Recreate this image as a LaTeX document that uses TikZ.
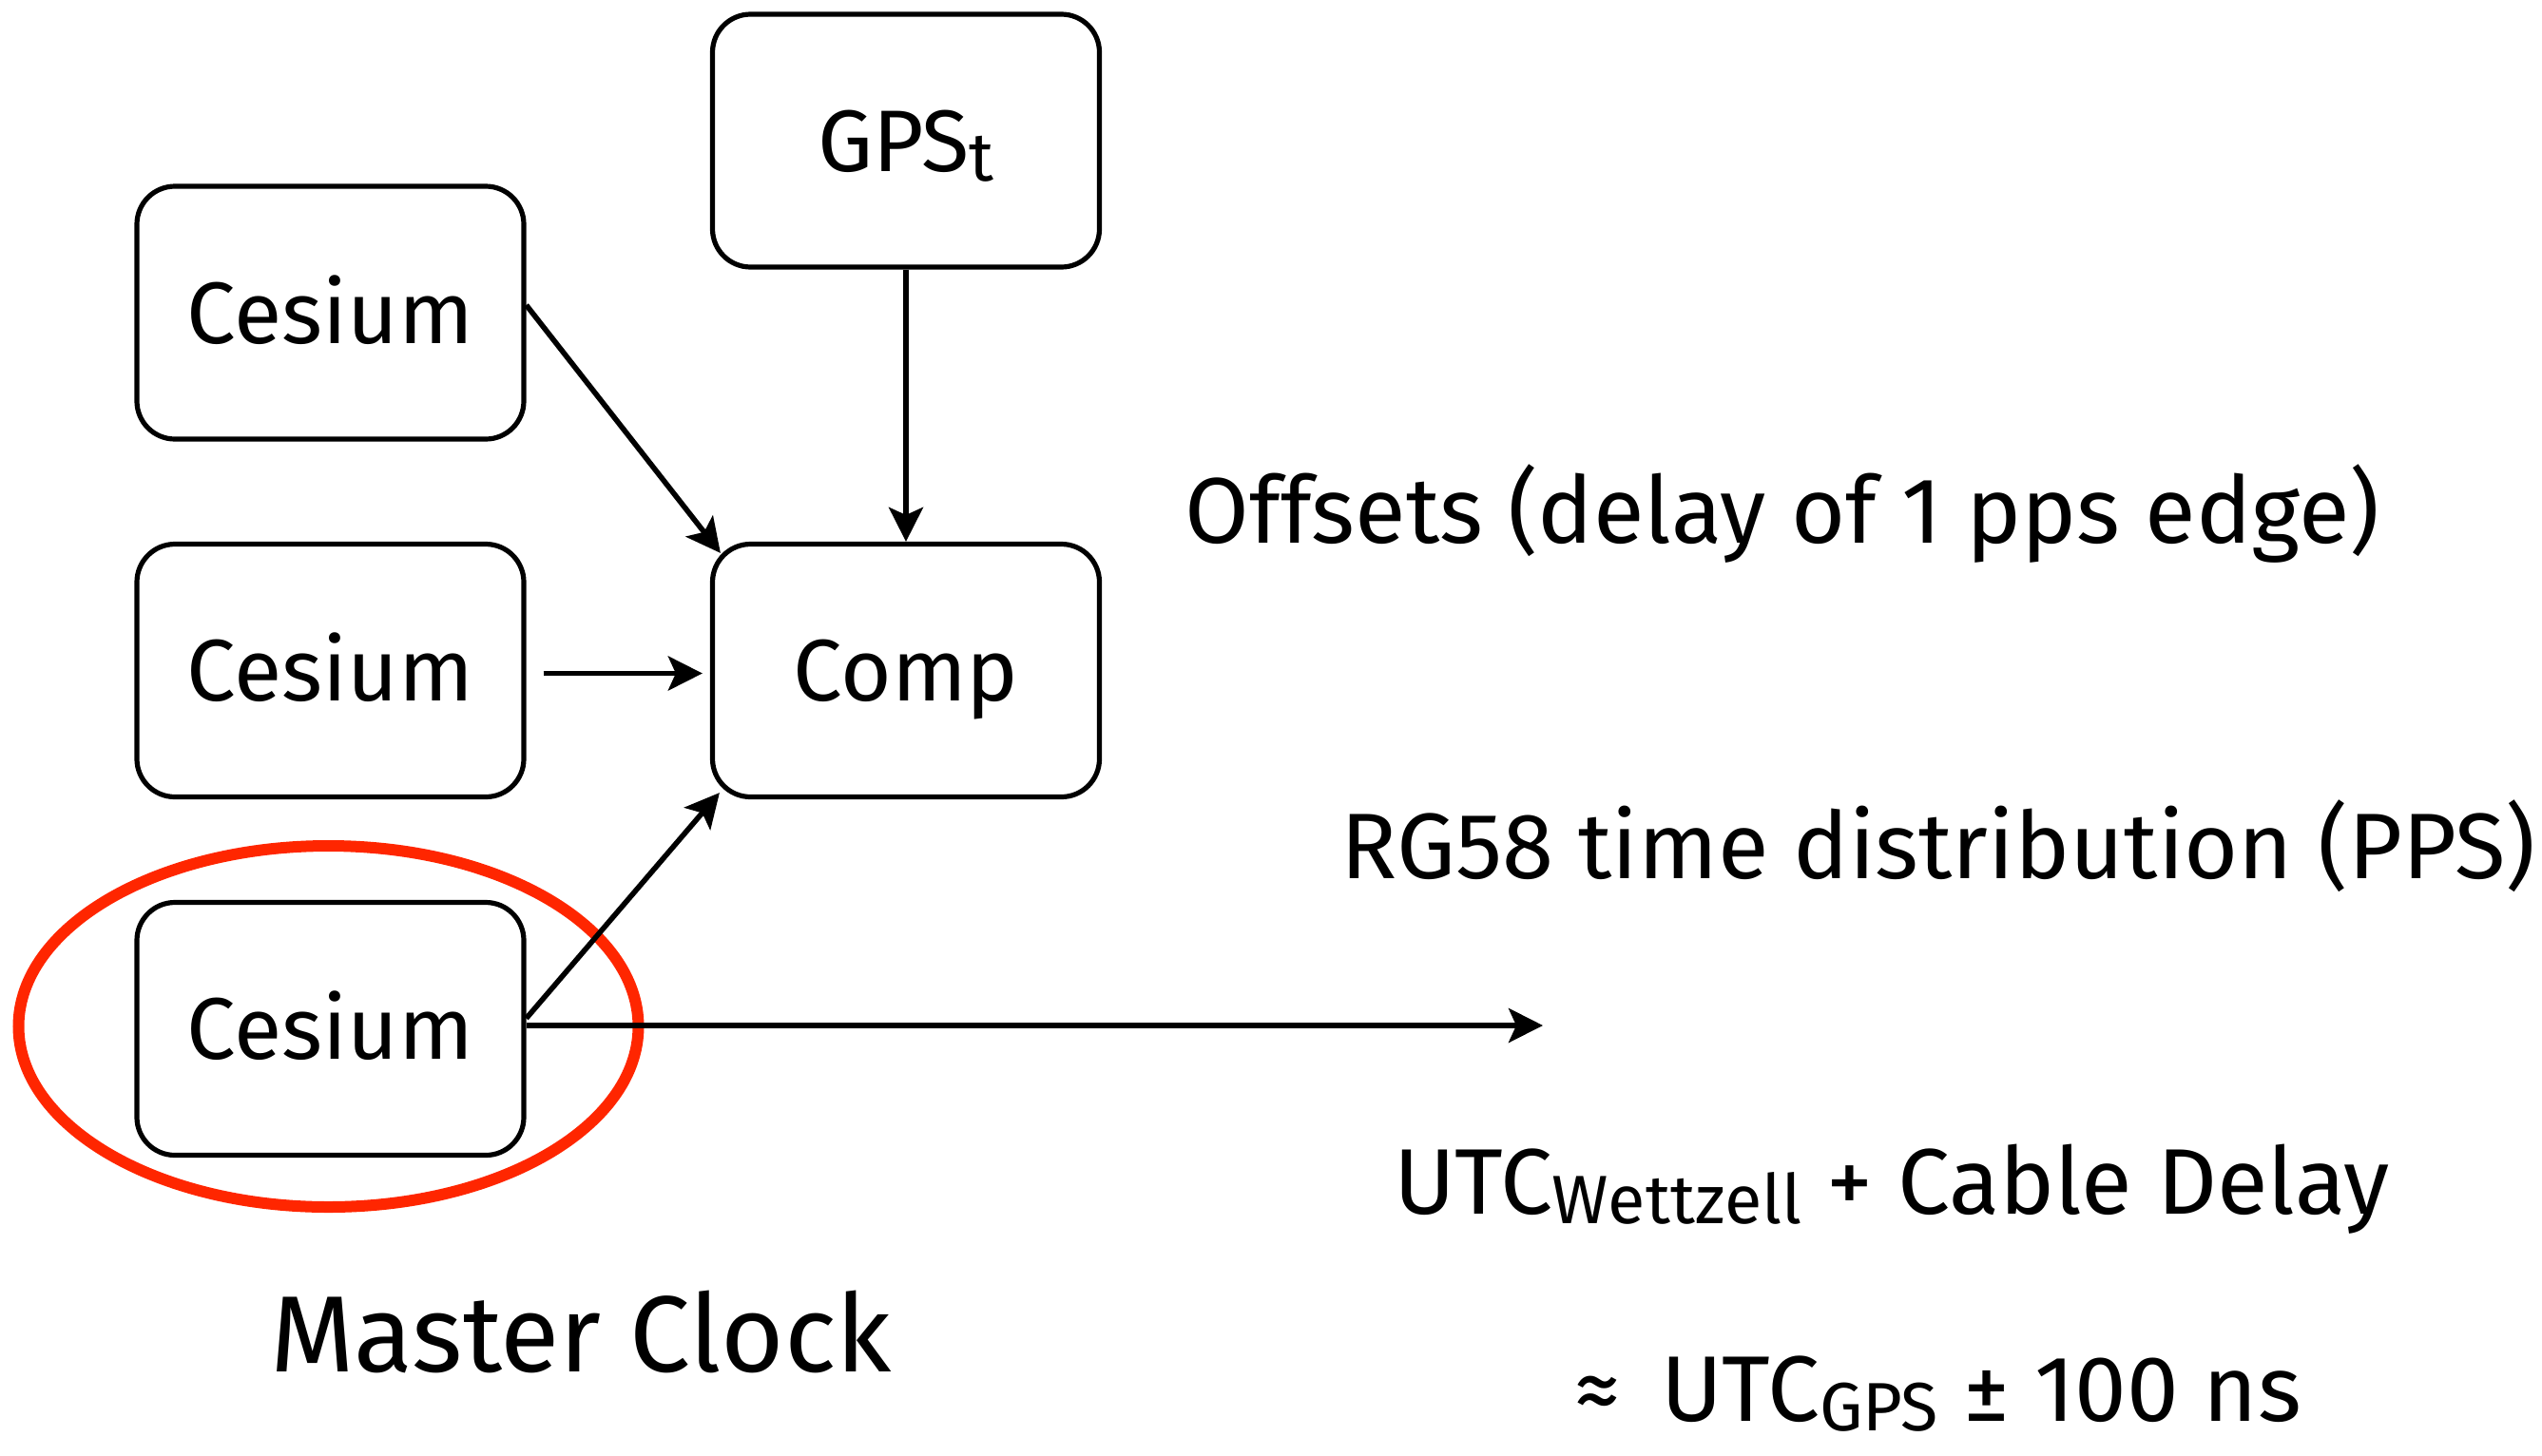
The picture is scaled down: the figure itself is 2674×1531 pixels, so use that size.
\documentclass[tikz,border=0pt]{standalone}
\usepackage{fontspec}
\setmainfont{Fira Sans}
\usetikzlibrary{arrows.meta,shapes.geometric,calc}
\definecolor{ringred}{RGB}{255,38,0}
\newcommand\mysub[1]{\raisebox{-2.5pt}{\fontsize{18}{18}\selectfont #1}}
\begin{document}
\begin{tikzpicture}[x=0.25pt,y=-0.25pt,
  box/.style={draw, line width=1.3pt, rounded corners=10pt,
    minimum width=101.75pt, minimum height=66.5pt,
    text height=16pt, text depth=0pt, inner sep=0pt,
    font=\fontsize{23}{23}\selectfont},
  lbl/.style={inner sep=0pt, anchor=base, font=\fontsize{24.5}{24.5}\selectfont},
  arr/.style={line width=1.4pt, -{Stealth[length=9pt, width=9pt, inset=2pt]}}]
\useasboundingbox (0,0) rectangle (2674,1531);
% red ring
\node[ellipse, draw=ringred, line width=3pt, minimum width=163pt, minimum height=95pt, inner sep=0pt] (ring) at (345.5,1080) {};
% boxes
\node[box] (gps)  at (953,148)    {GPS\mysub{t}};
\node[box] (c1)   at (347.5,329)  {Cesium};
\node[box] (c2)   at (347.5,705.5){Cesium};
\node[box] (comp) at (953,705.5)  {Comp};
\node[box] (c3)   at (347.5,1082.5){Cesium};
\coordinate (out) at (1623,1079);
% connectors
\draw[arr] (gps) -- (comp);
\draw[arr] ($(c1.east)+(0,-8)$) -- ($(comp.north west)+(11,12)$);
\draw[arr] ($(c2.east)+(18,3)$) -- ($(comp.west)+(-8,3)$);
\draw[arr] ($(c3.east)+(0,-11)$) -- ($(comp.south west)+(10,-7)$);
\draw[arr] ($(c3.east)+(0,-3.5)$) -- (out);
% labels
\node[lbl] (offs) at (1875,571) {Offsets (delay of 1 pps edge)};
\node[lbl] (rg58) at (2039,924) {RG58 time distribution (PPS)};
\node[lbl] (utcw) at (1990,1277) {UTC\mysub{Wettzell} + Cable Delay};
\node[lbl] (utcg) at (2039,1495) {≈\, UTC\mysub{GPS} ± 100 ns};
\node[lbl, font=\fontsize{28.5}{28.5}\selectfont] (mc) at (611,1443) {Master Clock};
\end{tikzpicture}
\end{document}
